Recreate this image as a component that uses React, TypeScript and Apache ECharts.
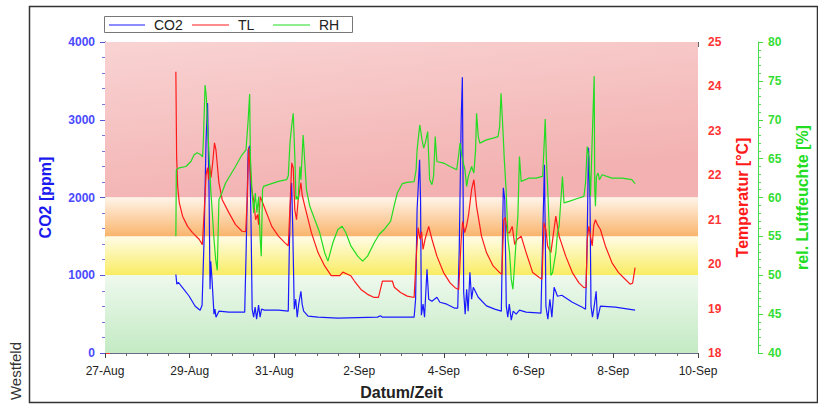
import React, { useEffect, useRef } from "react";
import * as echarts from "echarts";

// x values are days since 27-Aug 00:00
const dateLabels = ["27-Aug", "29-Aug", "31-Aug", "2-Sep", "4-Sep", "6-Sep", "8-Sep", "10-Sep"];
const seriesNames = ["CO2", "TL", "RH"];

const co2Data: number[][] = [
  [1.673, 1010], [1.696, 884], [1.731, 910], [1.825, 845], [1.988, 730], [2.129, 602], [2.246, 551], [2.292, 615],
  [2.339, 1460], [2.386, 2741], [2.421, 3215], [2.456, 2100], [2.48, 820], [2.496, 1180], [2.526, 950], [2.573, 500],
  [2.596, 564], [2.62, 461], [2.69, 538], [2.924, 525], [3.298, 525], [3.333, 1332], [3.38, 2613], [3.415, 2665],
  [3.45, 1590], [3.474, 564], [3.509, 461], [3.544, 590], [3.579, 435], [3.626, 615], [3.661, 461], [3.696, 564],
  [3.766, 551], [4.094, 551], [4.327, 538], [4.351, 1332], [4.386, 2100], [4.405, 2190], [4.433, 1590], [4.468, 564],
  [4.503, 692], [4.538, 461], [4.573, 628], [4.625, 794], [4.655, 628], [4.69, 538], [4.795, 474], [5.029, 461],
  [5.497, 448], [6.433, 461], [6.503, 480], [6.55, 461], [7.298, 461], [7.333, 692], [7.368, 1845], [7.427, 2485],
  [7.45, 1973], [7.469, 487], [7.509, 628], [7.544, 461], [7.602, 1076], [7.642, 692], [7.719, 666], [7.836, 717],
  [7.906, 653], [8.07, 628], [8.257, 576], [8.327, 576], [8.363, 1332], [8.409, 2998], [8.437, 3548], [8.456, 1973],
  [8.468, 781], [8.503, 500], [8.538, 820], [8.573, 538], [8.615, 1038], [8.655, 692], [8.695, 845], [8.812, 717],
  [9.006, 606], [9.2, 564], [9.357, 538], [9.38, 1332], [9.404, 2126], [9.439, 1973], [9.474, 602], [9.509, 461],
  [9.544, 628], [9.591, 423], [9.637, 538], [9.708, 500], [9.785, 551], [9.942, 525], [10.292, 512], [10.327, 1332],
  [10.374, 2421], [10.398, 1332], [10.409, 602], [10.456, 435], [10.503, 692], [10.55, 461], [10.603, 845], [10.683, 730],
  [10.784, 743], [11.034, 653], [11.268, 589], [11.345, 564], [11.38, 1332], [11.415, 2639], [11.45, 1973], [11.474, 602],
  [11.509, 461], [11.556, 628], [11.595, 794], [11.626, 435], [11.696, 602], [12.047, 589], [12.515, 551],
];

const tlData: number[][] = [
  [1.673, 24.33], [1.691, 22.43], [1.715, 21.76], [1.754, 21.38], [1.832, 21.08], [1.949, 20.85], [2.065, 20.71], [2.222, 20.56],
  [2.299, 20.44], [2.339, 21.12], [2.386, 22.01], [2.421, 22.17], [2.444, 21.9], [2.468, 22.24], [2.503, 21.95], [2.538, 22.24],
  [2.585, 22.73], [2.62, 22.57], [2.69, 21.83], [2.767, 21.45], [2.924, 21.16], [3.081, 20.89], [3.235, 20.74], [3.322, 20.73],
  [3.357, 21.45], [3.392, 22.62], [3.427, 22.12], [3.462, 21.68], [3.509, 21.45], [3.556, 21.0], [3.602, 21.12], [3.626, 20.89],
  [3.665, 21.52], [3.696, 21.45], [3.782, 21.23], [3.937, 20.85], [4.094, 20.63], [4.25, 20.48], [4.327, 20.41], [4.374, 21.45],
  [4.409, 22.28], [4.444, 22.17], [4.48, 21.23], [4.522, 21.0], [4.561, 21.45], [4.625, 21.83], [4.655, 21.56], [4.718, 21.3],
  [4.873, 20.71], [5.029, 20.26], [5.186, 19.96], [5.34, 19.74], [5.544, 19.74], [5.614, 19.82], [5.801, 19.74], [5.888, 19.62],
  [6.042, 19.43], [6.199, 19.32], [6.356, 19.25], [6.456, 19.25], [6.55, 19.62], [6.784, 19.62], [6.83, 19.48], [6.978, 19.36],
  [7.135, 19.28], [7.298, 19.25], [7.345, 20.11], [7.392, 20.82], [7.439, 20.56], [7.474, 20.73], [7.509, 20.33], [7.556, 20.56],
  [7.642, 20.85], [7.719, 20.56], [7.836, 20.18], [7.993, 19.81], [8.147, 19.58], [8.264, 19.47], [8.351, 19.43], [8.409, 20.56],
  [8.444, 20.96], [8.491, 20.71], [8.538, 20.87], [8.585, 21.12], [8.655, 21.68], [8.709, 21.9], [8.772, 21.3], [8.889, 20.63],
  [9.006, 20.26], [9.163, 19.96], [9.317, 19.81], [9.368, 19.77], [9.415, 21.0], [9.45, 21.05], [9.497, 20.71], [9.551, 20.71],
  [9.614, 20.85], [9.673, 20.44], [9.731, 20.56], [9.825, 20.63], [9.942, 20.26], [10.098, 19.81], [10.253, 19.7], [10.316, 19.66],
  [10.363, 20.93], [10.409, 20.78], [10.449, 20.41], [10.526, 20.26], [10.585, 20.67], [10.643, 21.08], [10.721, 20.63], [10.877, 20.18],
  [11.034, 19.81], [11.189, 19.58], [11.306, 19.47], [11.357, 19.48], [11.385, 20.56], [11.423, 20.85], [11.502, 20.41], [11.539, 20.87],
  [11.579, 21.0], [11.626, 20.89], [11.696, 20.78], [11.813, 20.41], [11.97, 20.03], [12.124, 19.81], [12.281, 19.66], [12.398, 19.55],
  [12.456, 19.57], [12.515, 19.92],
];

const rhData: number[][] = [
  [1.673, 55.02], [1.684, 63.57], [1.754, 63.82], [1.911, 63.99], [2.028, 64.63], [2.105, 65.49], [2.175, 65.75], [2.262, 65.49],
  [2.304, 65.23], [2.323, 67.41], [2.363, 74.46], [2.393, 72.92], [2.416, 69.55], [2.44, 67.41], [2.496, 61.01], [2.533, 58.06],
  [2.573, 54.6], [2.613, 52.04], [2.65, 50.63], [2.69, 59.73], [2.737, 60.24], [2.847, 61.86], [3.081, 63.99], [3.235, 65.49],
  [3.329, 66.13], [3.352, 67.83], [3.38, 69.97], [3.415, 73.3], [3.432, 65.27], [3.469, 61.01], [3.509, 58.02], [3.549, 60.58],
  [3.586, 58.06], [3.626, 60.11], [3.665, 54.6], [3.689, 52.46], [3.719, 61.01], [3.743, 61.43], [3.86, 61.65], [4.094, 62.07],
  [4.288, 62.29], [4.327, 62.8], [4.367, 66.99], [4.409, 69.33], [4.444, 70.83], [4.484, 64.85], [4.508, 59.73], [4.522, 60.15],
  [4.561, 59.73], [4.601, 63.99], [4.625, 62.29], [4.678, 68.05], [4.756, 61.01], [4.835, 58.87], [4.952, 57.16], [5.069, 55.46],
  [5.186, 52.9], [5.263, 51.82], [5.38, 54.18], [5.497, 55.88], [5.598, 56.31], [5.684, 55.5], [5.808, 53.74], [5.965, 52.46],
  [6.082, 51.82], [6.199, 52.46], [6.356, 54.18], [6.472, 55.24], [6.589, 55.88], [6.744, 56.95], [6.823, 58.87], [6.901, 60.58],
  [7.018, 61.78], [7.135, 61.94], [7.298, 62.03], [7.345, 63.57], [7.368, 66.13], [7.431, 69.33], [7.485, 67.41], [7.524, 66.35],
  [7.562, 67.03], [7.618, 68.47], [7.665, 62.29], [7.719, 61.65], [7.759, 62.8], [7.796, 67.83], [7.836, 64.63], [7.993, 64.43],
  [8.147, 63.99], [8.304, 63.57], [8.344, 65.27], [8.383, 66.99], [8.421, 65.49], [8.461, 64.43], [8.498, 63.57], [8.538, 61.43],
  [8.578, 62.71], [8.655, 63.99], [8.709, 63.15], [8.749, 66.13], [8.772, 70.83], [8.812, 67.83], [8.849, 66.99], [9.006, 67.41],
  [9.163, 67.63], [9.28, 67.83], [9.317, 69.11], [9.35, 73.39], [9.397, 68.47], [9.427, 64.85], [9.474, 60.62], [9.513, 54.6],
  [9.551, 52.94], [9.591, 49.48], [9.63, 48.2], [9.668, 51.18], [9.708, 54.6], [9.747, 57.59], [9.785, 65.27], [9.825, 62.07],
  [10.019, 62.5], [10.175, 62.5], [10.332, 62.71], [10.369, 66.99], [10.393, 70.1], [10.421, 64.85], [10.449, 61.43], [10.486, 56.31],
  [10.526, 49.99], [10.566, 50.34], [10.643, 52.9], [10.683, 55.46], [10.721, 56.31], [10.8, 62.71], [10.837, 59.3], [10.954, 59.51],
  [11.188, 59.94], [11.306, 60.15], [11.345, 61.9], [11.385, 66.55], [11.423, 65.27], [11.462, 60.15], [11.502, 67.41], [11.549, 75.61],
  [11.563, 61.01], [11.579, 58.87], [11.602, 62.71], [11.642, 63.15], [11.673, 62.29], [11.735, 62.93], [11.97, 62.5], [12.204, 62.5],
  [12.438, 62.29], [12.515, 61.78],
];

// CO2 comfort bands (ppm)
const bandLimits = [
  [2000, 4000],
  [1500, 2000],
  [1000, 1500],
  [0, 1000],
];
const bandColors = [
  ["#f9d3d3", "#f3b1b1"],
  ["#fff4e8", "#f9b46c"],
  ["#fffce6", "#f9ec62"],
  ["#eef9ee", "#c3eac3"],
];

const FONT = "'Liberation Sans', Arial, sans-serif";
const BLUE = "#1a1aff";
const RED = "#ff1a1a";
const GREEN = "#22dd22";
const seriesColors = [BLUE, RED, GREEN];

export default function App() {
  const ref = useRef<HTMLDivElement>(null);

  useEffect(() => {
    if (!ref.current) return;
    const chart = echarts.init(ref.current, undefined, { renderer: "svg" });

    const bands = bandLimits.map((b, i) => [
      {
        yAxis: b[1],
        itemStyle: {
          color: {
            type: "linear",
            x: 0,
            y: 0,
            x2: i === 0 ? 0.4 : 0,
            y2: 1,
            colorStops: [
              { offset: 0, color: bandColors[i][0] },
              { offset: 1, color: bandColors[i][1] },
            ],
          },
        },
      },
      { yAxis: b[0] },
    ]);

    const legendWidths = [36, 37, 37];
    const legendLefts = [109, 192, 273];

    chart.setOption({
      animation: false,
      backgroundColor: "#ffffff",
      textStyle: { fontFamily: FONT },
      grid: { left: 105, right: 115, top: 42, bottom: 51, containLabel: false },
      legend: seriesNames.map((n, i) => ({
        data: [{ name: n, icon: "rect", itemStyle: { color: seriesColors[i] } }],
        left: legendLefts[i],
        top: 18,
        padding: 0,
        itemWidth: legendWidths[i],
        itemHeight: 1.2,
        itemGap: 0,
        selectedMode: false,
        textStyle: { fontSize: 14, color: "#222", fontFamily: FONT, padding: [0, 0, 0, 4] },
      })),
      xAxis: [
        {
          type: "value",
          position: "bottom",
          min: 0,
          max: 14,
          interval: 2,
          name: "Datum/Zeit",
          nameLocation: "middle",
          nameGap: 31,
          nameTextStyle: { fontSize: 16, fontWeight: "bold", color: "#222", fontFamily: FONT },
          axisLine: { show: true, lineStyle: { color: "#6a6a8a", width: 1 } },
          axisTick: { show: true, length: 5, lineStyle: { color: "#444" } },
          minorTick: { show: true, splitNumber: 4, length: 3, lineStyle: { color: "#666" } },
          axisLabel: {
            fontSize: 12,
            color: "#222",
            margin: 12,
            formatter: (v: number) => dateLabels[Math.round(v / 2)] ?? "",
          },
          splitLine: { show: false },
        },
        {
          type: "value",
          position: "top",
          min: 0,
          max: 14,
          interval: 2,
          axisLine: { show: true, lineStyle: { color: "#888", width: 1 } },
          axisTick: { show: true, inside: true, length: 5, lineStyle: { color: "#666" } },
          axisLabel: { show: false },
          splitLine: { show: false },
        },
      ],
      yAxis: [
        {
          type: "value",
          position: "left",
          min: 0,
          max: 4000,
          interval: 1000,
          name: "CO2 [ppm]",
          nameLocation: "middle",
          nameGap: 52,
          nameTextStyle: { fontSize: 16, fontWeight: "bold", color: "#1a1aee", fontFamily: FONT },
          axisLine: { show: true, lineStyle: { color: "#5555dd", width: 1 } },
          axisTick: { show: true, length: 5, lineStyle: { color: "#5555dd" } },
          minorTick: { show: true, splitNumber: 5, length: 3, lineStyle: { color: "#7777dd" } },
          axisLabel: { fontSize: 12, fontWeight: "bold", color: "#4a4aff", margin: 10, formatter: (v: number) => String(v) },
          splitLine: { show: false },
        },
        {
          type: "value",
          position: "right",
          min: 18,
          max: 25,
          interval: 1,
          name: "Temperatur [°C]",
          nameLocation: "middle",
          nameGap: 36,
          nameRotate: 90,
          nameTextStyle: { fontSize: 16, fontWeight: "bold", color: "#ff1a1a", fontFamily: FONT },
          axisLine: { show: true, lineStyle: { color: "#777", width: 1 } },
          axisTick: { show: true, length: 5, lineStyle: { color: "#ff3333" } },
          minorTick: { show: true, splitNumber: 5, length: 3, lineStyle: { color: "#ff5555" } },
          axisLabel: { fontSize: 12, fontWeight: "bold", color: "#ff3333", margin: 10, formatter: (v: number) => String(v) },
          splitLine: { show: false },
        },
        {
          type: "value",
          position: "right",
          offset: 60,
          min: 40,
          max: 80,
          interval: 5,
          name: "rel. Luftfeuchte [%]",
          nameLocation: "middle",
          nameGap: 36,
          nameRotate: 90,
          nameTextStyle: { fontSize: 16, fontWeight: "bold", color: "#22dd22", fontFamily: FONT },
          axisLine: { show: true, lineStyle: { color: "#44dd44", width: 1 } },
          axisTick: { show: true, length: 5, lineStyle: { color: "#44dd44" } },
          minorTick: { show: true, splitNumber: 5, length: 3, lineStyle: { color: "#55dd55" } },
          axisLabel: { fontSize: 12, fontWeight: "bold", color: "#33dd33", margin: 10, formatter: (v: number) => String(v) },
          splitLine: { show: false },
        },
      ],
      series: [
        {
          name: seriesNames[0],
          type: "line",
          xAxisIndex: 0,
          yAxisIndex: 0,
          data: co2Data,
          symbol: "none",
          lineStyle: { color: BLUE, width: 1.2 },
          itemStyle: { color: BLUE },
          markArea: { silent: true, data: bands },
        },
        {
          name: seriesNames[1],
          type: "line",
          xAxisIndex: 0,
          yAxisIndex: 1,
          data: tlData,
          symbol: "none",
          lineStyle: { color: RED, width: 1.2 },
          itemStyle: { color: RED },
        },
        {
          name: seriesNames[2],
          type: "line",
          xAxisIndex: 0,
          yAxisIndex: 2,
          data: rhData,
          symbol: "none",
          lineStyle: { color: GREEN, width: 1.2 },
          itemStyle: { color: GREEN },
        },
      ],
      graphic: [
        {
          type: "rect",
          shape: { x: 29.5, y: 6.5, width: 788, height: 396 },
          style: { fill: "none", stroke: "#333", lineWidth: 1.5 },
          silent: true,
        },
        {
          type: "rect",
          shape: { x: 104.5, y: 16.5, width: 248, height: 16 },
          style: { fill: "none", stroke: "#777", lineWidth: 1 },
          silent: true,
        },
        {
          type: "text",
          x: 15,
          y: 371,
          rotation: Math.PI / 2,
          style: {
            text: "Westfeld",
            fontSize: 15,
            fontFamily: FONT,
            fill: "#333",
            align: "center",
            verticalAlign: "middle",
          },
          silent: true,
        },
      ],
    });

    return () => chart.dispose();
  }, []);

  return (
    <div
      ref={ref}
      style={{ position: "fixed", left: 0, top: 0, width: 818, height: 405, background: "#fff" }}
    />
  );
}
